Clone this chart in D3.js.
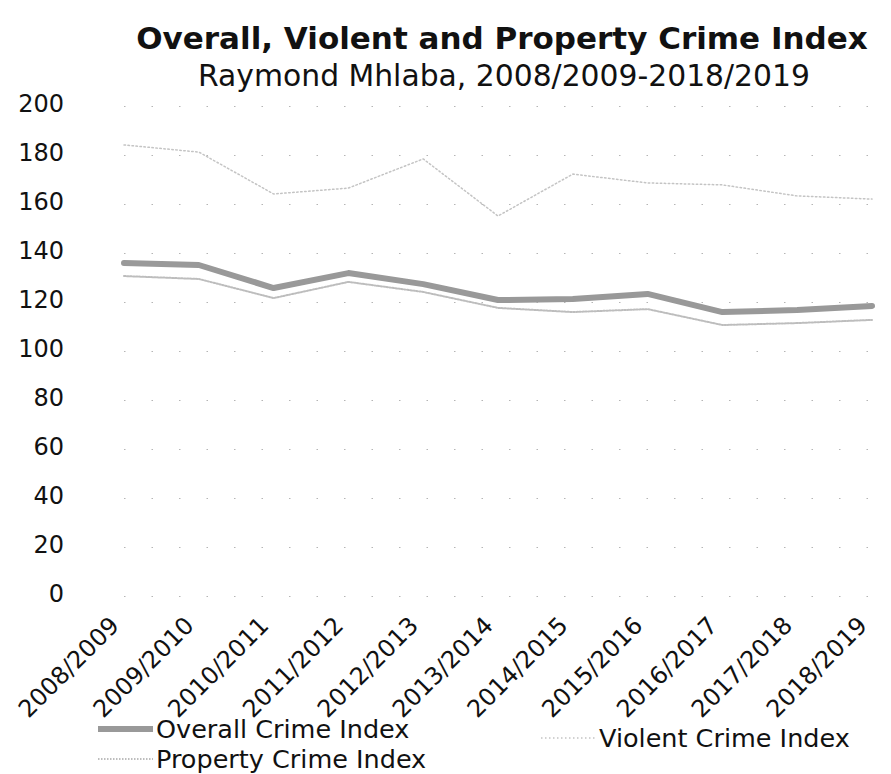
<!DOCTYPE html>
<html>
<head>
<meta charset="utf-8">
<script src="https://cdn.jsdelivr.net/npm/d3@7"></script>
<style>
  body { margin: 0; background: #fff; }
  svg text { font-family: 'DejaVu Sans', Verdana, sans-serif; }
  .tick text { fill: #111; }
</style>
</head>
<body>
<svg width="891" height="774"></svg>
<script>
const categories = ['2008/2009', '2009/2010', '2010/2011', '2011/2012', '2012/2013', '2013/2014',
    '2014/2015', '2015/2016', '2016/2017', '2017/2018', '2018/2019'];
const overallIndex = [135.9, 135.1, 125.7, 131.8, 127.3, 120.8, 121.2, 123.3, 115.9, 116.7, 118.4];
const propertyIndex = [130.6, 129.4, 121.6, 128.2, 124.1, 117.6, 115.9, 117.1, 110.6, 111.4, 112.7];
const violentIndex = [184.1, 181.2, 164.1, 166.5, 178.4, 155.1, 172.2, 168.6, 167.8, 163.3, 162.0];
const yTicks = [0, 20, 40, 60, 80, 100, 120, 140, 160, 180, 200];

const svg = d3.select('svg');
const width = +svg.attr('width');
const height = +svg.attr('height');

const margin = {top: 106, right: 19, bottom: 178, left: 124};
const innerWidth = width - margin.left - margin.right;
const innerHeight = height - margin.top - margin.bottom;

const series = [
    {name: 'Overall Crime Index', values: overallIndex, color: '#999', width: 6, dash: null},
    {name: 'Property Crime Index', values: propertyIndex, color: '#bdbdbd', width: 2, dash: '1.5,1.5'},
    {name: 'Violent Crime Index', values: violentIndex, color: '#c4c4c4', width: 1.5, dash: '1.5,2.5'}
];

const xScale = d3.scalePoint()
    .domain(categories)
    .range([0, innerWidth]);

const yScale = d3.scaleLinear()
    .domain([0, 200])
    .range([innerHeight, 0]);

// titles
svg.append('text')
    .attr('x', 502)
    .attr('y', 49)
    .attr('text-anchor', 'middle')
    .attr('font-weight', 'bold')
    .attr('font-size', 31)
    .attr('fill', '#111')
    .text('Overall, Violent and Property Crime Index');

svg.append('text')
    .attr('x', 504)
    .attr('y', 86)
    .attr('text-anchor', 'middle')
    .attr('font-size', 29.8)
    .attr('fill', '#111')
    .text('Raymond Mhlaba, 2008/2009-2018/2019');

const g = svg.append('g')
    .attr('transform', `translate(${margin.left},${margin.top})`);

const yAxis = d3.axisLeft(yScale)
    .tickValues(yTicks)
    .tickSize(-innerWidth)
    .tickPadding(60);

const yAxisG = g.append('g').call(yAxis)
    .attr('font-family', null)
    .attr('font-size', 24);
yAxisG.select('.domain').remove();
yAxisG.selectAll('line')
    .attr('stroke', '#b5b5b5')
    .attr('stroke-dasharray', '1.5,26');
yAxisG.selectAll('text')
    .attr('dy', '0.22em');

const xAxis = d3.axisBottom(xScale)
    .tickSize(0);

const xAxisG = g.append('g').call(xAxis)
    .attr('font-family', null)
    .attr('font-size', 24)
    .attr('transform', `translate(0, ${innerHeight})`);
xAxisG.select('.domain').remove();
xAxisG.selectAll('text')
    .attr('text-anchor', 'end')
    .attr('x', 0)
    .attr('y', 0)
    .attr('dy', 0)
    .attr('transform', 'translate(-4, 31) rotate(-45)');

const lineGenerator = d3.line()
    .x((d, i) => xScale(categories[i]))
    .y(d => yScale(d));

series.forEach(s => {
    g.append('path')
        .attr('fill', 'none')
        .attr('stroke', s.color)
        .attr('stroke-width', s.width)
        .attr('stroke-linejoin', 'round')
        .attr('stroke-linecap', 'round')
        .attr('stroke-dasharray', s.dash)
        .attr('d', lineGenerator(s.values));
});

// legend
const legendPos = [
    {x: 98, y: 729},
    {x: 98, y: 759},
    {x: 541, y: 738}
];

series.forEach((s, i) => {
    const p = legendPos[i];
    svg.append('line')
        .attr('x1', p.x)
        .attr('x2', p.x + 55)
        .attr('y1', p.y)
        .attr('y2', p.y)
        .attr('stroke', s.color)
        .attr('stroke-width', s.width)
        .attr('stroke-dasharray', s.dash);
    svg.append('text')
        .attr('x', p.x + 58)
        .attr('y', p.y + 9)
        .attr('font-size', 25.5)
        .attr('fill', '#111')
        .text(s.name);
});
</script>
</body>
</html>
